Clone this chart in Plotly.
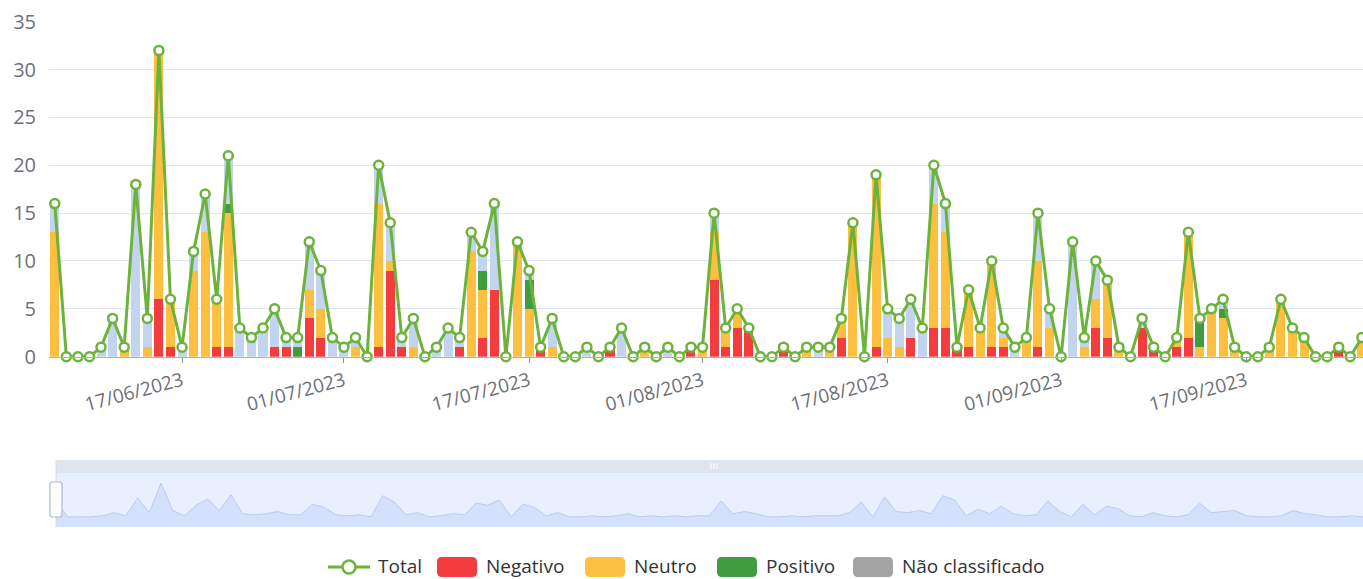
import plotly.graph_objects as go
import pandas as pd

# ---------------- data ----------------
start_date = "2023-06-06"
n_days = 114
dates = pd.date_range(start_date, periods=n_days, freq="D")

negativo = [0,0,0,0,0,0,0,0,0,6,
            1,0,0,0,1,1,0,0,0,1,
            1,0,4,2,0,0,0,0,1,9,
            1,0,0,0,0,1,0,2,7,0,
            0,0,1,0,0,0,0,0,1,0,
            0,0,0,0,0,1,0,8,1,3,
            3,0,0,1,0,0,0,0,2,0,
            0,1,0,0,2,0,3,3,1,1,
            0,1,1,0,0,1,0,0,0,0,
            3,2,0,0,3,1,0,1,2,0,
            0,0,0,0,0,0,0,0,0,0,
            0,1,0,0]
neutro = [13,0,0,0,0,0,1,0,1,26,
          5,0,9,13,5,14,0,0,0,0,
          0,0,3,3,0,0,1,0,15,1,
          0,1,0,0,0,0,11,5,0,0,
          12,5,0,1,0,0,0,0,0,0,
          0,1,0,0,0,0,1,5,2,2,
          0,0,0,0,0,1,0,1,2,14,
          0,18,2,1,0,0,13,10,0,6,
          3,9,1,0,2,9,3,0,0,1,
          3,6,1,0,0,0,0,1,11,1,
          5,4,1,0,0,1,6,3,2,0,
          0,0,0,2]
positivo = [0,0,0,0,0,0,0,0,0,0,
            0,0,0,0,0,1,0,0,0,0,
            0,1,0,0,0,0,0,0,0,0,
            0,0,0,0,0,0,0,2,0,0,
            0,3,0,0,0,0,0,0,0,0,
            0,0,0,0,0,0,0,0,0,0,
            0,0,0,0,0,0,0,0,0,0,
            0,0,0,0,0,0,0,0,0,0,
            0,0,0,0,0,0,0,0,0,0,
            0,0,0,0,0,0,0,0,0,3,
            0,1,0,0,0,0,0,0,0,0,
            0,0,0,0]
nao_classificado = [3,0,0,0,1,4,0,18,3,0,
                    0,1,2,4,0,5,3,2,3,4,
                    1,1,5,4,2,1,1,0,4,4,
                    1,3,0,1,3,1,2,2,9,0,
                    0,1,0,3,0,0,1,0,0,3,
                    0,0,0,1,0,0,0,2,0,0,
                    0,0,0,0,0,0,1,0,0,0,
                    0,0,3,3,4,3,4,3,0,0,
                    0,0,1,1,0,5,2,0,12,1,
                    4,0,0,0,1,0,0,0,0,0,
                    0,1,0,0,0,0,0,0,0,0,
                    0,0,0,0]
total = [16,0,0,0,1,4,1,18,4,32,
         6,1,11,17,6,21,3,2,3,5,
         2,2,12,9,2,1,2,0,20,14,
         2,4,0,1,3,2,13,11,16,0,
         12,9,1,4,0,0,1,0,1,3,
         0,1,0,1,0,1,1,15,3,5,
         3,0,0,1,0,1,1,1,4,14,
         0,19,5,4,6,3,20,16,1,7,
         3,10,3,1,2,15,5,0,12,2,
         10,8,1,0,4,1,0,2,13,4,
         5,6,1,0,0,1,6,3,2,0,
         0,1,0,2]

tick_dates = ["2023-06-17", "2023-07-01", "2023-07-17", "2023-08-01",
              "2023-08-17", "2023-09-01", "2023-09-17"]
tick_labels = ["17/06/2023", "01/07/2023", "17/07/2023", "01/08/2023",
               "17/08/2023", "01/09/2023", "17/09/2023"]

legend_names = ["Total", "Negativo", "Neutro", "Positivo", "Não classificado"]

# ---------------- style ----------------
W, H = 1363, 579
RED = "#f23c3e"
ORANGE = "#fcbf40"
GREEN_BAR = "#3f9c3f"
BLUE_NC = "#c3d5ee"
GRAY_NC = "#a3a3a3"
LINE_GREEN = "#6cb33c"
AXIS_TXT = "#6e7079"
FONT = "Open Sans, Noto Sans, sans-serif"


def px_x(p):
    return p / W


def px_y(p):
    return 1 - p / H


fig = go.Figure()

fig.add_trace(go.Bar(x=dates, y=negativo, name=legend_names[1], marker_color=RED,
                     marker_line_width=0))
fig.add_trace(go.Bar(x=dates, y=neutro, name=legend_names[2], marker_color=ORANGE,
                     marker_line_width=0))
fig.add_trace(go.Bar(x=dates, y=positivo, name=legend_names[3], marker_color=GREEN_BAR,
                     marker_line_width=0))
fig.add_trace(go.Bar(x=dates, y=nao_classificado, name=legend_names[4],
                     marker_color=BLUE_NC, marker_line_width=0))
fig.add_trace(go.Scatter(x=dates, y=total, name=legend_names[0], mode="lines+markers",
                         line=dict(color=LINE_GREEN, width=3),
                         marker=dict(size=9, color="white", symbol="circle",
                                     line=dict(color=LINE_GREEN, width=2.5)),
                         cliponaxis=False))

# slider data shadow (same total series, compressed)
slider_floor = -9.6
slider_ceiling = 41.6
fig.add_trace(go.Scatter(x=dates, y=[slider_floor] * n_days, xaxis="x2", yaxis="y2",
                         mode="lines", line=dict(width=0, color="rgba(0,0,0,0)"),
                         hoverinfo="skip"))
fig.add_trace(go.Scatter(x=dates, y=total, xaxis="x2", yaxis="y2", mode="lines",
                         line=dict(color="#b9cbf3", width=1),
                         fill="tonexty", fillcolor="rgba(143,176,247,0.22)",
                         hoverinfo="skip"))

x_start = dates[0] - pd.Timedelta(hours=12)
x_end = dates[0] + pd.Timedelta(days=113.1)

fig.update_layout(
    width=W, height=H,
    margin=dict(l=0, r=0, t=0, b=0, autoexpand=False),
    paper_bgcolor="white", plot_bgcolor="white",
    font=dict(family=FONT, color="#333333"),
    barmode="stack", bargap=0.22,
    showlegend=False,
    xaxis=dict(domain=[px_x(49), 1], type="date", range=[x_start, x_end],
               tickmode="array", tickvals=tick_dates, ticktext=tick_labels,
               tickangle=-15, ticks="outside", ticklen=5, tickcolor="#8a8fa3",
               showline=True, linecolor="#a9aec4", linewidth=1,
               showgrid=False, zeroline=False, automargin=False,
               tickfont=dict(size=19, color=AXIS_TXT, family=FONT), anchor="y"),
    yaxis=dict(domain=[px_y(356.7), px_y(21.7)], range=[0, 35], dtick=5,
               showgrid=True, gridcolor="#e0e6f1", gridwidth=1,
               showline=False, zeroline=False, ticks="", automargin=False,
               ticklabelstandoff=12,
               tickfont=dict(size=20, color=AXIS_TXT, family=FONT), anchor="x"),
    xaxis2=dict(domain=[px_x(56), 1], type="date",
                range=[dates[0], dates[0] + pd.Timedelta(days=112)],
                visible=False, anchor="y2", automargin=False),
    yaxis2=dict(domain=[px_y(527), px_y(473)], range=[slider_floor, slider_ceiling],
                visible=False, anchor="x2", automargin=False),
)


def rounded_rect(x0, y0, x1, y1, r):
    # pixel coordinates (y downwards) -> paper path
    X = lambda v: f"{px_x(v):.6f}"
    Y = lambda v: f"{px_y(v):.6f}"
    pts = [
        f"M {X(x0 + r)},{Y(y0)}",
        f"L {X(x1 - r)},{Y(y0)}",
        f"Q {X(x1)},{Y(y0)} {X(x1)},{Y(y0 + r)}",
        f"L {X(x1)},{Y(y1 - r)}",
        f"Q {X(x1)},{Y(y1)} {X(x1 - r)},{Y(y1)}",
        f"L {X(x0 + r)},{Y(y1)}",
        f"Q {X(x0)},{Y(y1)} {X(x0)},{Y(y1 - r)}",
        f"L {X(x0)},{Y(y0 + r)}",
        f"Q {X(x0)},{Y(y0)} {X(x0 + r)},{Y(y0)} Z",
    ]
    return " ".join(pts)


shapes = [
    # filler (selected window)
    dict(type="rect", xref="paper", yref="paper", x0=px_x(56), x1=1,
         y0=px_y(527), y1=px_y(473), fillcolor="#e8effe", line=dict(width=0), layer="below"),
    # move-handle band on top
    dict(type="rect", xref="paper", yref="paper", x0=px_x(56), x1=1,
         y0=px_y(473), y1=px_y(460), fillcolor="#dfe4ef", line=dict(width=0), layer="below"),
    # slider left border
    dict(type="line", xref="paper", yref="paper", x0=px_x(56), x1=px_x(56),
         y0=px_y(527), y1=px_y(460), line=dict(color="#d2dbee", width=1)),
    # left handle
    dict(type="path", xref="paper", yref="paper",
         path=rounded_rect(50, 482, 62, 517, 2.5), fillcolor="white",
         line=dict(color="#acb8d1", width=1.2)),
]
for dx in (-3, 0, 3):
    shapes.append(dict(type="line", xref="paper", yref="paper",
                       x0=px_x(714 + dx), x1=px_x(714 + dx),
                       y0=px_y(469), y1=px_y(463), line=dict(color="white", width=1)))

# ---------------- manual legend (ECharts style) ----------------
LEG_Y = 567
TXT_Y = 565.5
annotations = []
shapes.append(dict(type="line", xref="paper", yref="paper", x0=px_x(328), x1=px_x(370),
                   y0=px_y(LEG_Y), y1=px_y(LEG_Y), line=dict(color=LINE_GREEN, width=3)))
shapes.append(dict(type="circle", xref="paper", yref="paper",
                   x0=px_x(349 - 6.5), x1=px_x(349 + 6.5),
                   y0=px_y(LEG_Y + 6.5), y1=px_y(LEG_Y - 6.5),
                   fillcolor="white", line=dict(color=LINE_GREEN, width=2.5)))
annotations.append(dict(x=px_x(377), y=px_y(TXT_Y), xref="paper", yref="paper",
                        text=legend_names[0], showarrow=False, xanchor="left",
                        yanchor="middle", borderpad=0,
                        font=dict(size=19, color="#333333", family=FONT)))
swatches = [(legend_names[1], RED, 437), (legend_names[2], ORANGE, 585),
            (legend_names[3], GREEN_BAR, 717), (legend_names[4], GRAY_NC, 853)]
for name, col, x0 in swatches:
    shapes.append(dict(type="path", xref="paper", yref="paper",
                       path=rounded_rect(x0, LEG_Y - 10, x0 + 40, LEG_Y + 10, 5),
                       fillcolor=col, line=dict(width=0)))
    annotations.append(dict(x=px_x(x0 + 48), y=px_y(TXT_Y), xref="paper", yref="paper",
                            text=name, showarrow=False, xanchor="left", yanchor="middle",
                            borderpad=0,
                            font=dict(size=19, color="#333333", family=FONT)))

fig.update_layout(shapes=shapes, annotations=annotations)

fig.write_html(
    "out.html",
    config={"displayModeBar": False},
    post_script="document.body.style.margin='0px';document.body.style.overflow='hidden';",
)
